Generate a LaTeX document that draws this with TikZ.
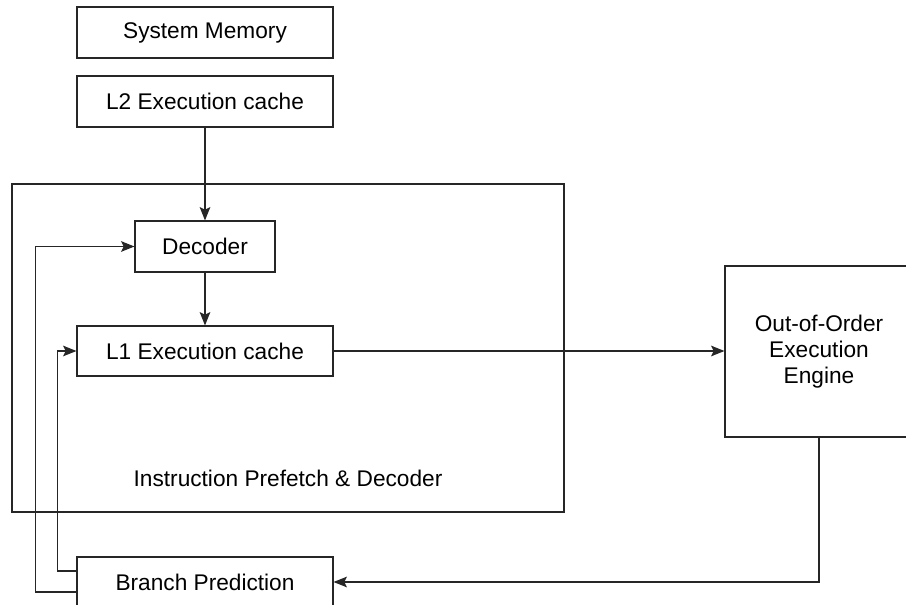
\documentclass[tikz,border=0pt]{standalone}
\usepackage{fontspec}
\setmainfont{Liberation Sans}
\usetikzlibrary{arrows.meta}
\begin{document}
\begin{tikzpicture}[x=0.75pt,y=-0.75pt,
  box/.style={draw=black!85,line width=0.9pt,rectangle,inner sep=0pt,font=\fontsize{17}{19.5}\selectfont,align=center},
  wide/.style={box,minimum width=192pt,minimum height=38.25pt},
  arr/.style={draw=black!85,line width=0.9pt,-{Stealth[length=10pt,width=8pt,inset=2pt]}},
  conn/.style={draw=black!85,line width=0.9pt}]
\useasboundingbox (0,0) rectangle (906,605);
\clip (0,0) rectangle (906,605);
\fill[white] (0,0) rectangle (906,605);
\node[wide] (sysmem) at (205,32.5) {System Memory};
\node[wide] (l2) at (205,101.5) {L2 Execution cache};
\node[box,minimum width=414pt,minimum height=246pt] (outer) at (288,348) {};
\node[font=\fontsize{17}{19.5}\selectfont] (label) at (288,478) {Instruction Prefetch \& Decoder};
\node[box,minimum width=105pt,minimum height=38.25pt] (decoder) at (205,246.5) {Decoder};
\node[wide,minimum height=37.5pt] (l1) at (205,351) {L1 Execution cache};
\node[box,minimum width=141pt,minimum height=128.25pt] (ooo) at (819,351.5) {Out-of-Order\\Execution\\Engine};
\node[wide,minimum height=37.5pt] (branch) at (205,582) {Branch Prediction};
\draw[arr] (l2.south) -- (decoder.north);
\draw[arr] (decoder.south) -- (l1.north);
\draw[arr] (l1.east) -- (l1.east -| ooo.west);
\draw[arr] (ooo.south) |- (branch.east);
\draw[arr] ([yshift=-7.5pt]branch.west) -- ++(-41,0) |- (decoder.west);
\draw[arr] ([yshift=8.25pt]branch.west) -- ++(-19,0) |- (l1.west);
\end{tikzpicture}
\end{document}
